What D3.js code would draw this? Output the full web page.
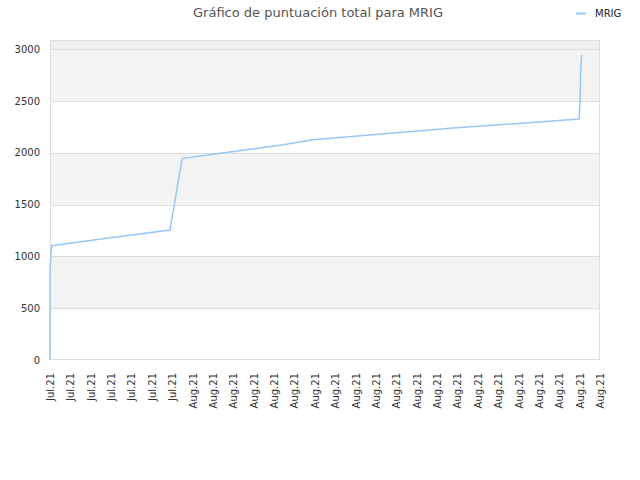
<!DOCTYPE html>
<html>
<head>
<meta charset="utf-8">
<script src="https://cdn.jsdelivr.net/npm/d3@7"></script>
<style>
body{margin:0;background:#fff;}
svg{display:block;font-family:"DejaVu Sans",sans-serif;}
</style>
</head>
<body>
<svg id="c" width="640" height="480"></svg>
<script>
const title = "Gráfico de puntuación total para MRIG";
const seriesName = "MRIG";
const dates = ["2021-07-25T00:00","2021-07-25T00:14","2021-07-25T02:00","2021-07-27T18:45","2021-07-30T21:23","2021-07-31T11:31","2021-07-31T12:40","2021-08-02T00:00","2021-08-05T07:00","2021-08-06T21:50","2021-08-08T05:40","2021-08-13T15:20","2021-08-19T23:20","2021-08-20T00:28","2021-08-20T01:15","2021-08-20T02:25"];
const scores = [0,910,1102,1174,1254,1939,1945,1984,2071,2125,2146,2235,2325,2479,2788,2942];
const yTicks = [0,500,1000,1500,2000,2500,3000];
const monthNames = ["Jan","Feb","Mar","Apr","May","Jun","Jul","Aug","Sep","Oct","Nov","Dec"];
const xStart = "2021-07-25", xEnd = "2021-08-21";

const svg = d3.select("#c");
const L=50,R=600,T=40,B=360;
const parse = s => new Date(s + (s.length>10?":00Z":"T00:00:00Z"));
const x = d3.scaleUtc().domain([parse(xStart), parse(xEnd)]).range([L,R]);
const y = d3.scaleLinear().domain([0,3087]).range([B,T]);

svg.append("rect").attr("x",L).attr("y",T).attr("width",R-L).attr("height",y(3000)-T).attr("fill","#eeeeee");
for(let i=0;i<yTicks.length-1;i++){
  if(i%2===1){
    svg.append("rect").attr("x",L).attr("y",y(yTicks[i+1])).attr("width",R-L)
      .attr("height",y(yTicks[i])-y(yTicks[i+1])).attr("fill","#f3f3f3");
  }
}
svg.append("g").selectAll("line").data(yTicks.slice(1)).join("line")
  .attr("x1",L).attr("x2",R).attr("y1",d=>Math.round(y(d))+0.5).attr("y2",d=>Math.round(y(d))+0.5)
  .attr("stroke","#dddddd");
svg.append("rect").attr("x",L+0.5).attr("y",T+0.5).attr("width",R-L-1).attr("height",B-T-1)
  .attr("fill","none").attr("stroke","#dddddd");

const ya = svg.append("g").attr("transform",`translate(${L},0)`)
  .call(d3.axisLeft(y).tickValues(yTicks).tickFormat(d3.format("d")).tickSize(0).tickPadding(10));
ya.select(".domain").remove();
ya.selectAll("text").attr("fill","#333").style("font-size","10px").style("font-family","DejaVu Sans");

const xTicks = d3.utcDay.range(parse(xStart), d3.utcDay.offset(parse(xEnd),1));
const fmt = d => monthNames[d.getUTCMonth()] + "." + String(d.getUTCFullYear()).slice(2);
const xa = svg.append("g").attr("transform",`translate(0,${B})`)
  .call(d3.axisBottom(x).tickValues(xTicks).tickFormat(fmt).tickSize(0));
xa.select(".domain").remove();
xa.selectAll("text").attr("fill","#333").style("font-size","10px").style("font-family","DejaVu Sans")
  .attr("text-anchor","end").attr("transform","rotate(-90)").attr("x",-13).attr("y",0).attr("dy","0.35em");

const data = dates.map((d,i)=>({t:parse(d),v:scores[i]}));
svg.append("path").datum(data).attr("fill","none").attr("stroke","#99c7f4").attr("stroke-width",1.5)
  .attr("d",d3.line().x(d=>x(d.t)).y(d=>y(d.v)));

svg.append("text").attr("x",318).attr("y",17).attr("text-anchor","middle").attr("fill","#555")
  .style("font-size","13px").text(title);
svg.append("line").attr("x1",576).attr("x2",586).attr("y1",13.5).attr("y2",13.5).attr("stroke","#99c7f4").attr("stroke-width",2);
svg.append("text").attr("x",595).attr("y",17).attr("fill","#222").style("font-size","10px").text(seriesName);
</script>
</body>
</html>
